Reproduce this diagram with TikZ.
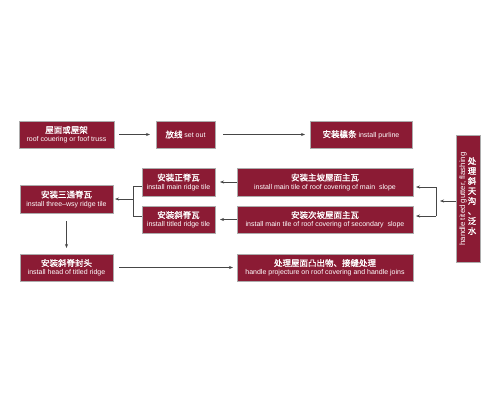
\documentclass[tikz,border=0pt]{standalone}
\usepackage{fontspec}
\setmainfont{Liberation Sans}
\newfontfamily\cjk{Noto Sans CJK SC}[FakeBold=1.2]
\usetikzlibrary{arrows.meta}
\definecolor{boxred}{RGB}{139,27,52}
\definecolor{linegray}{RGB}{70,70,70}
\newcommand\cnt[1]{{\cjk\fontsize{8.5}{8.5}\selectfont #1}}
\begin{document}
\begin{tikzpicture}[x=1pt,y=-1pt,
  redbox/.style={draw=gray!65, line width=0.7pt, fill=boxred, text=white,
    inner sep=0pt, outer sep=0pt, anchor=north west, align=center,
    font=\fontsize{7}{8.3}\selectfont},
  conn/.style={draw=linegray, line width=0.6pt},
  arr/.style={conn, -{Stealth[length=4pt,width=3pt]}},
  vtext/.style={text=white, inner sep=0pt}]
\useasboundingbox (0,0) rectangle (500,400);
\fill[white] (0,0) rectangle (500,400);

% boxes
\node[redbox, minimum width=95pt, minimum height=27pt] (b1) at (19,121)
  {\cnt{屋面或屋架}\\roof couering or foof truss};
\node[redbox, minimum width=59pt, minimum height=27pt] (b2) at (156,121)
  {\cnt{放线} set out};
\node[redbox, minimum width=102pt, minimum height=27pt] (b3) at (310,121)
  {\cnt{安装檩条} install purline};
\node[redbox, minimum width=73pt, minimum height=28pt] (r1) at (142,168)
  {\cnt{安装正脊瓦}\\install main ridge tile};
\node[redbox, minimum width=73pt, minimum height=27pt] (r2) at (142,206)
  {\cnt{安装斜脊瓦}\\install titled ridge tile};
\node[redbox, minimum width=176pt, minimum height=28pt] (m1) at (237,168)
  {\cnt{安装主坡屋面主瓦}\\install main tile of roof covering of main\ \ slope};
\node[redbox, minimum width=176pt, minimum height=27pt] (m2) at (237,206)
  {\cnt{安装次坡屋面主瓦}\\install main tile of roof covering of secondary\ \ slope};
\node[redbox, minimum width=93pt, minimum height=28pt] (t) at (20,185)
  {\cnt{安装三通脊瓦}\\install three–wsy ridge tile};
\node[redbox, minimum width=93pt, minimum height=27pt] (f) at (20,254)
  {\cnt{安装斜脊封头}\\install head of titled ridge};
\node[redbox, minimum width=176pt, minimum height=27pt] (p) at (237,254)
  {\cnt{处理屋面凸出物、接缝处理}\\handle projecture on roof covering and handle joins};
\node[redbox, minimum width=24pt, minimum height=127pt] (v) at (456,135) {};
\node[vtext, rotate=90, font=\fontsize{7.8}{8}\selectfont] (ven) at (463,199)
  {handle tited gutter, flashing};
\node[vtext, align=center, font=\cjk\fontsize{8.5}{10}\selectfont] (vcn) at (472,196)
  {处\\理\\斜\\天\\沟\\、\\泛\\水};

% connectors
\draw[arr] ([xshift=5pt]b1.east) -- ([xshift=-6pt]b2.west);
\draw[arr] ([xshift=8pt]b2.east) -- ([xshift=-5pt]b3.west);
\draw[arr, shorten >=5pt] (m1.west) -- (r1.east);
\draw[arr, shorten >=5pt] (m2.west) -- (r2.east);

\coordinate (fr1) at (436,187);
\coordinate (fr2) at (436,216);
\coordinate (frm) at (436,201);
\draw[conn] (fr1) -- (fr2);
\draw[arr, shorten >=3pt] (fr1) -- (fr1 -| m1.east);
\draw[arr, shorten >=3pt] (fr2) -- (fr2 -| m2.east);
\draw[arr, shorten >=4pt] (frm -| v.west) -- (frm);

\coordinate (fl1) at (133,186);
\coordinate (fl2) at (133,216);
\coordinate (flm) at (133,199);
\draw[conn] (fl1 -| r1.west) -- (fl1) -- (fl2) -- (fl2 -| r2.west);
\draw[arr, shorten >=2pt] (flm) -- (flm -| t.east);

\draw[arr] ([yshift=-8pt]t.south) -- ([yshift=6pt]f.north);
\draw[arr] ([xshift=6pt]f.east) -- ([xshift=-4pt]p.west);
\end{tikzpicture}
\end{document}
